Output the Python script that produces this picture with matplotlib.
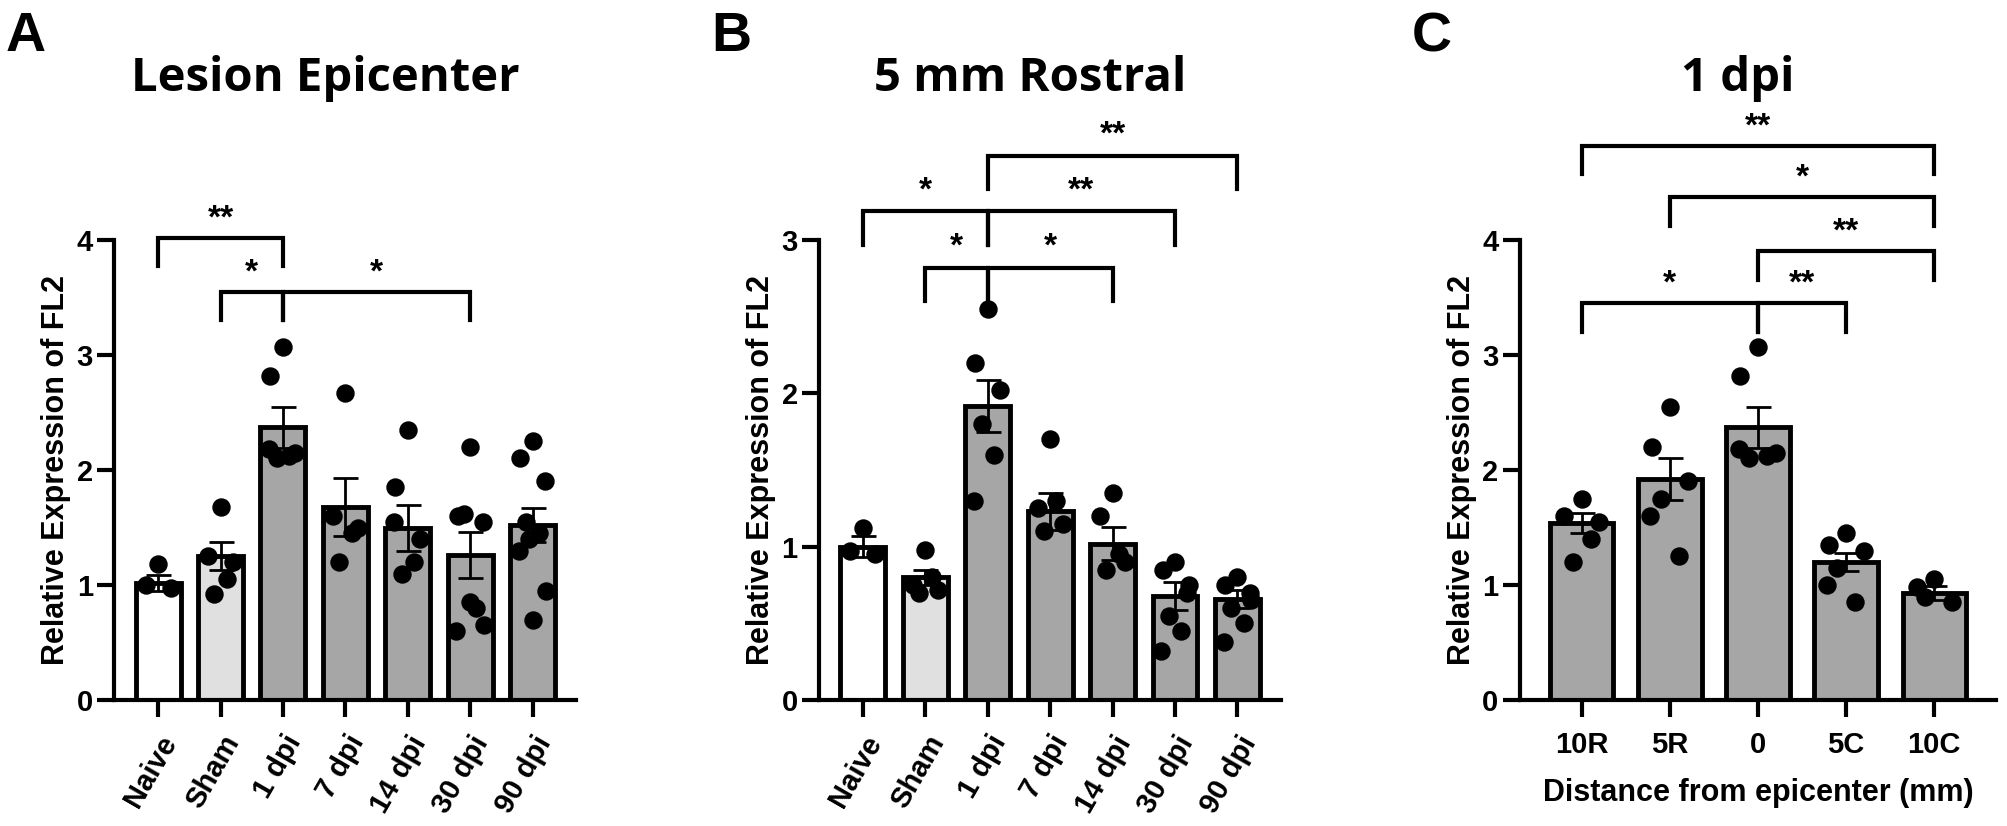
import matplotlib.pyplot as plt
import numpy as np

plt.rcParams['font.family'] = 'Liberation Sans'
plt.rcParams['font.weight'] = 'bold'

# Panel A: lesion epicenter
a_labels = ['Naive', 'Sham', '1 dpi', '7 dpi', '14 dpi', '30 dpi', '90 dpi']
a_means = [1.02, 1.25, 2.37, 1.68, 1.50, 1.26, 1.52]
a_sem = [0.07, 0.12, 0.18, 0.25, 0.20, 0.20, 0.15]
a_points = [[1.18, 1.00, 0.97],
            [1.68, 1.25, 1.20, 0.92, 1.05],
            [3.07, 2.82, 2.15, 2.10, 2.12, 2.18],
            [2.67, 1.60, 1.50, 1.20, 1.45],
            [2.35, 1.85, 1.40, 1.10, 1.20, 1.55],
            [2.20, 1.60, 1.55, 1.62, 0.80, 0.60, 0.65, 0.85],
            [2.25, 2.10, 1.90, 1.55, 1.45, 1.30, 0.95, 0.70, 1.40]]
a_sig = [(0, 2, 4.02, '**'), (1, 2, 3.55, '*'), (2, 5, 3.55, '*')]

# Panel B: 5 mm rostral
b_labels = a_labels
b_means = [1.00, 0.80, 1.92, 1.23, 1.02, 0.68, 0.66]
b_sem = [0.07, 0.05, 0.17, 0.12, 0.11, 0.09, 0.06]
b_points = [[1.12, 0.97, 0.95],
            [0.98, 0.75, 0.72, 0.70, 0.80],
            [2.55, 2.20, 2.02, 1.80, 1.60, 1.30],
            [1.70, 1.25, 1.15, 1.10, 1.30],
            [1.35, 1.20, 0.90, 0.85, 0.95],
            [0.90, 0.85, 0.70, 0.55, 0.45, 0.32, 0.75],
            [0.80, 0.75, 0.70, 0.60, 0.50, 0.38, 0.65]]
b_sig = [(0, 2, 3.19, '*'), (1, 2, 2.82, '*'), (2, 4, 2.82, '*'),
         (2, 5, 3.19, '**'), (2, 6, 3.55, '**')]

# Panel C: 1 dpi along the cord
c_labels = ['10R', '5R', '0', '5C', '10C']
c_means = [1.54, 1.92, 2.37, 1.20, 0.93]
c_sem = [0.09, 0.18, 0.18, 0.08, 0.06]
c_points = [[1.75, 1.60, 1.55, 1.20, 1.40],
            [2.55, 2.20, 1.90, 1.75, 1.25, 1.60],
            [3.07, 2.82, 2.15, 2.10, 2.12, 2.18],
            [1.45, 1.35, 1.30, 1.15, 0.85, 1.00],
            [1.05, 0.98, 0.85, 0.90]]
c_sig = [(0, 2, 3.45, '*'), (2, 3, 3.45, '**'), (2, 4, 3.90, '**'),
         (1, 4, 4.37, '*'), (0, 4, 4.82, '**')]

offsets = [0.0, -0.2, 0.2, -0.1, 0.1, -0.22, 0.22, 0.0, -0.05]

fig = plt.figure(figsize=(20.08, 8.26), dpi=100)


def panel(rect, labels, means, sem, points, sig, ymax, colors, title, letter, rot):
    ax = fig.add_axes(rect)
    x = np.arange(len(labels))
    ax.bar(x, means, width=0.72, color=colors, edgecolor='black', linewidth=3.5, zorder=2)
    ax.errorbar(x, means, yerr=sem, fmt='none', ecolor='black', elinewidth=2,
                capsize=9, capthick=2, zorder=3)
    for i, pts in enumerate(points):
        xs = [i + offsets[j % len(offsets)] for j in range(len(pts))]
        ax.scatter(xs, pts, s=150, color='black', zorder=4, clip_on=False)
    leg = 0.06 * ymax / 4 * 4 if ymax == 4 else 0.2
    for i0, i1, y, txt in sig:
        l = 0.25 if ymax == 4 else 0.22
        ax.plot([i0, i0, i1, i1], [y - l, y, y, y - l], color='black', lw=3,
                clip_on=False, solid_joinstyle='miter')
        ax.text((i0 + i1) / 2, y + 0.03, txt, ha='center', va='bottom',
                fontsize=24, fontweight='bold')
    ax.set_xlim(-0.7, len(labels) - 0.3)
    ax.set_ylim(0, ymax)
    ax.set_yticks(range(ymax + 1))
    ax.set_xticks(x)
    if rot:
        ax.set_xticklabels(labels, rotation=60, ha='right', rotation_mode='anchor',
                           fontsize=21, fontweight='bold')
    else:
        ax.set_xticklabels(labels, fontsize=21, fontweight='bold')
    ax.tick_params(axis='both', width=3, length=12, labelsize=21)
    ax.tick_params(axis='x', pad=10)
    for s in ['top', 'right']:
        ax.spines[s].set_visible(False)
    for s in ['left', 'bottom']:
        ax.spines[s].set_linewidth(3)
    ax.set_ylabel('Relative Expression of FL2', fontsize=22, fontweight='bold')
    fig.text(rect[0] + rect[2] / 2 - 0.01, 0.905, title, ha='center', va='center',
             fontsize=34, fontweight='bold', family='Open Sans')
    fig.text(rect[0] - 0.054, 0.955, letter, ha='left', va='center',
             fontsize=40, fontweight='bold')
    return ax


white, light, gray = 'white', '#e0e0e0', '#a6a6a6'
ab_colors = [white, light] + [gray] * 5
panel([0.057, 0.1525, 0.23, 0.557], a_labels, a_means, a_sem, a_points, a_sig, 4,
      ab_colors, 'Lesion Epicenter', 'A', True)
panel([0.408, 0.1525, 0.23, 0.557], b_labels, b_means, b_sem, b_points, b_sig, 3,
      ab_colors, '5 mm Rostral', 'B', True)
axc = panel([0.757, 0.1525, 0.237, 0.557], c_labels, c_means, c_sem, c_points, c_sig, 4,
            [gray] * 5, '1 dpi', 'C', False)
axc.set_xlabel('Distance from epicenter (mm)', fontsize=22, fontweight='bold', labelpad=14)

fig.savefig('out.png', dpi=100)
